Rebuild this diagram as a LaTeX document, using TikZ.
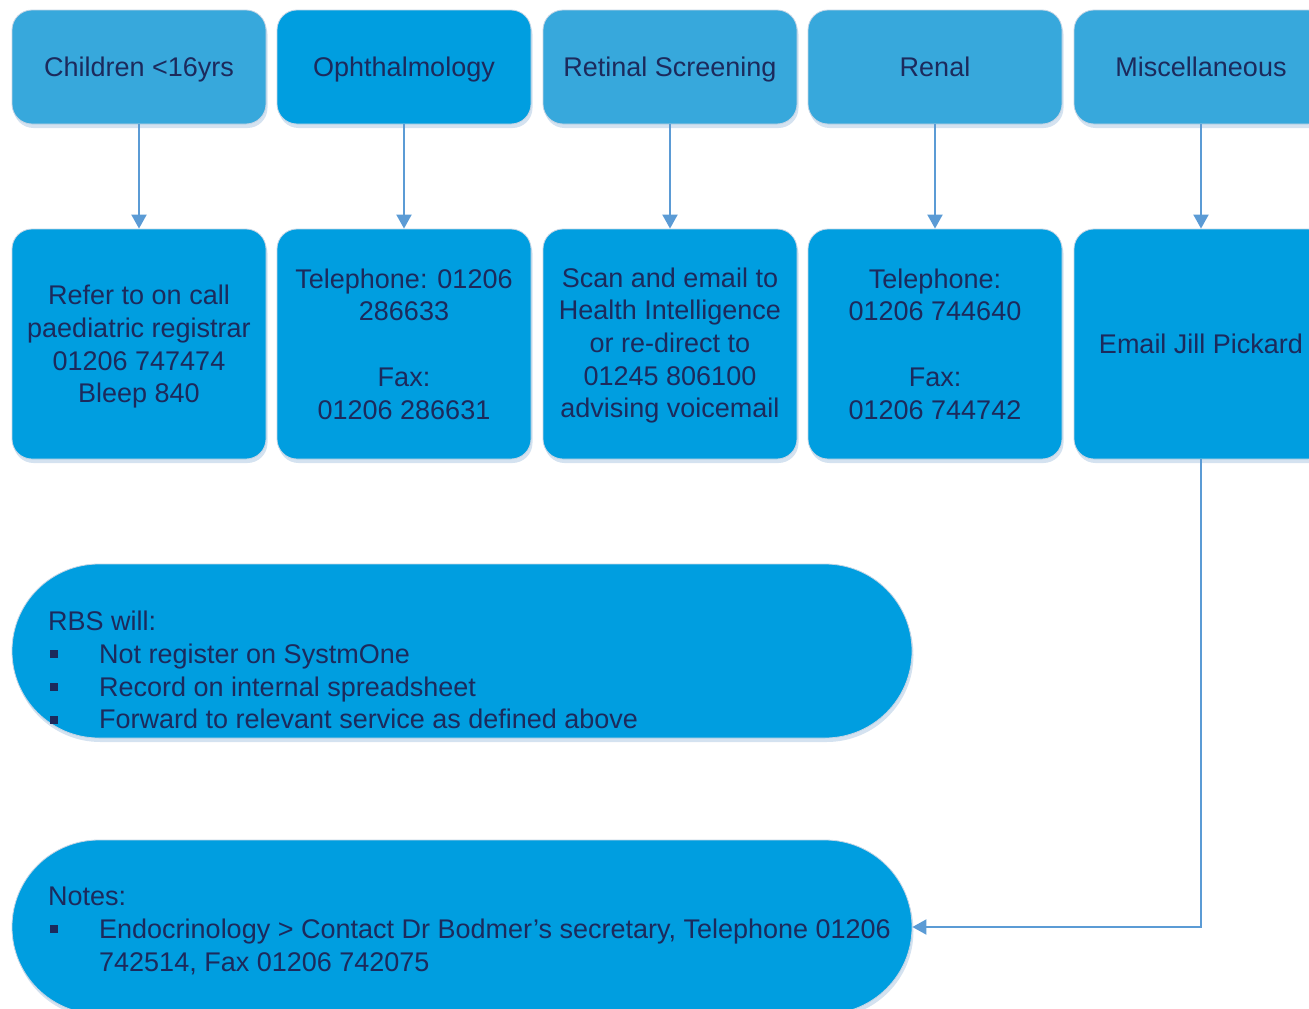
\documentclass[tikz,border=0pt]{standalone}
\usepackage{fontspec}
\setmainfont{Liberation Sans}
\usetikzlibrary{arrows.meta,shadows}

\definecolor{lightbox}{RGB}{55,168,220}
\definecolor{darkbox}{RGB}{0,158,224}
\definecolor{inkc}{RGB}{28,42,92}
\definecolor{linkc}{RGB}{91,155,213}
\definecolor{shadc}{RGB}{212,226,240}
\definecolor{rimc}{RGB}{196,212,228}

% square bullet followed by the hanging indent
\newcommand\sqbullet{\makebox[51pt][l]{\hspace{2pt}\raisebox{5pt}{\rule{8pt}{8pt}}}}

\tikzset{
  card/.style={rectangle, draw=rimc, line width=0.8pt, text=inkc,
    font=\fontsize{27}{32.7}\selectfont, align=center, inner sep=0pt,
    drop shadow={shadow xshift=1.5pt, shadow yshift=-4pt, fill=shadc, opacity=1}},
  head/.style={card, rounded corners=20pt, minimum width=254pt, minimum height=114pt,
    text height=20pt, text depth=2pt, fill=lightbox},
  headdark/.style={head, fill=darkbox},
  info/.style={card, rounded corners=20pt, minimum width=254pt, minimum height=230pt, fill=darkbox},
  pill/.style={card, rounded corners=86.9pt, minimum width=900pt, minimum height=174pt, fill=darkbox},
  pilltext/.style={text=inkc, font=\fontsize{27}{32.7}\selectfont, align=left, inner sep=0pt, anchor=north west},
  link/.style={draw=linkc, line width=2pt, -{Triangle[width=15pt,length=14pt]}}
}

\begin{document}
\begin{tikzpicture}[x=1pt,y=-1pt]
\clip (0,0) rectangle (1309,1009);

% category headers
\node[head]     (h1) at (139,67)  {Children <16yrs};
\node[headdark] (h2) at (404,67)  {Ophthalmology};
\node[head]     (h3) at (670,67)  {Retinal Screening};
\node[head]     (h4) at (935,67)  {Renal};
\node[head]     (h5) at (1201,67) {Miscellaneous};

% contact details
\node[info, text depth=0pt] (b1) at (139,344)  {Refer to on call\\paediatric registrar\\01206 747474\\Bleep 840};
\node[info] (b2) at (404,344)  {Telephone: 01206\\286633\\~\\Fax:\\01206 286631};
\node[info, text depth=2.5pt] (b3) at (670,344)  {Scan and email to\\Health Intelligence\\or re-direct to\\01245 806100\\advising voicemail};
\node[info] (b4) at (935,344)  {Telephone:\\01206 744640\\~\\Fax:\\01206 744742};
\node[info] (b5) at (1201,344) {Email Jill Pickard};

% summary and notes
\node[pill] (rbs)   at (462,651) {};
\node[pill] (notes) at (462,927) {};

\node[pilltext] (rbstext) at (48,611)
  {RBS will:\\
   \sqbullet Not register on SystmOne\\
   \sqbullet Record on internal spreadsheet\\
   \sqbullet Forward to relevant service as defined above};

\node[pilltext] (notestext) at (48,887)
  {Notes:\\
   \sqbullet Endocrinology > Contact Dr Bodmer’s secretary, Telephone 01206\\
   \hspace{51pt}742514, Fax 01206 742075};

% connectors
\draw[link] (h1) -- (b1);
\draw[link] (h2) -- (b2);
\draw[link] (h3) -- (b3);
\draw[link] (h4) -- (b4);
\draw[link] (h5) -- (b5);
\draw[link] (b5.south) |- (notes.east);
\end{tikzpicture}
\end{document}
